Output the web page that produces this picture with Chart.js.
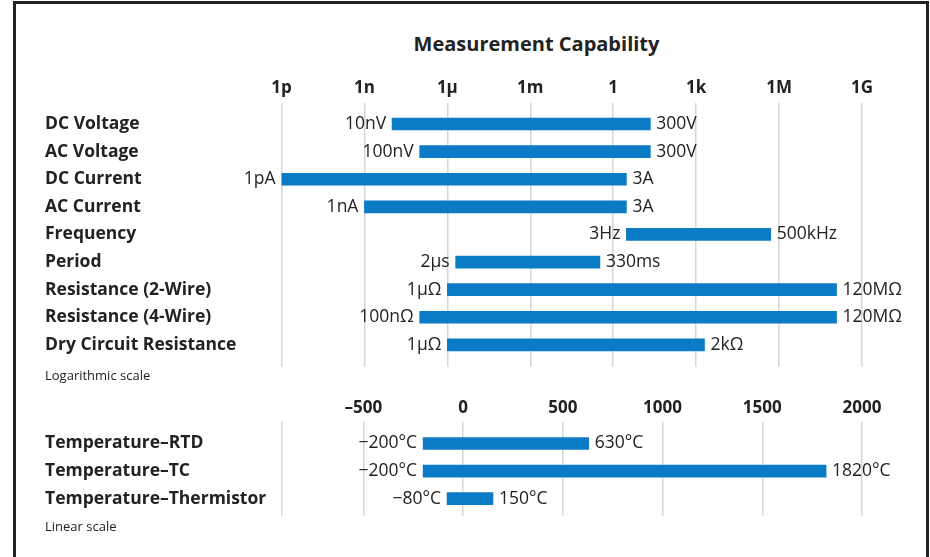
<!DOCTYPE html>
<html>
<head>
<meta charset="utf-8">
<script src="https://cdn.jsdelivr.net/npm/chart.js@4/dist/chart.umd.min.js"></script>
<style>
  body { margin: 0; width: 930px; height: 557px; overflow: hidden; background: #fff; position: relative; font-family: 'Open Sans', sans-serif; color: #222; }
  .frame { position: absolute; left: 13px; top: 1px; width: 916px; height: 600px; box-sizing: border-box; border: 3px solid #222; border-bottom: none; }
  .title { position: absolute; left: 0; width: 1073px; top: 32px; line-height: 24px; font-size: 20px; font-weight: 700; text-align: center; }
  .note { position: absolute; left: 45px; font-size: 13px; line-height: 16px; }
  canvas { position: absolute; left: 0; }
</style>
</head>
<body>
<div class="frame"></div>
<div class="title">Measurement Capability</div>
<canvas id="log-chart" width="930" height="380" style="top:0"></canvas>
<div class="note" style="top:367px">Logarithmic scale</div>
<canvas id="lin-chart" width="930" height="177" style="top:380px"></canvas>
<div class="note" style="top:518px">Linear scale</div>
<script>
const categories = ['DC Voltage', 'AC Voltage', 'DC Current', 'AC Current', 'Frequency', 'Period',
  'Resistance (2-Wire)', 'Resistance (4-Wire)', 'Dry Circuit Resistance'];
const rangeLow = [1e-8, 1e-7, 1e-12, 1e-9, 3, 2e-6, 1e-6, 1e-7, 1e-6];
const rangeHigh = [22, 22, 3, 3, 5e5, 0.33, 1.2e8, 1.2e8, 2e3];
const lowLabels = ['10nV', '100nV', '1pA', '1nA', '3Hz', '2µs', '1µΩ', '100nΩ', '1µΩ'];
const highLabels = ['300V', '300V', '3A', '3A', '500kHz', '330ms', '120MΩ', '120MΩ', '2kΩ'];
const logTicks = [1e-12, 1e-9, 1e-6, 1e-3, 1, 1e3, 1e6, 1e9];
const logTickLabels = ['1p', '1n', '1µ', '1m', '1', '1k', '1M', '1G'];

const tempCategories = ['Temperature–RTD', 'Temperature–TC', 'Temperature–Thermistor'];
const tempLow = [-200, -200, -80];
const tempHigh = [630, 1820, 150];
const tempLowLabels = ['−200°C', '−200°C', '−80°C'];
const tempHighLabels = ['630°C', '1820°C', '150°C'];
const linMin = -910;
const linTicks = [linMin, -500, 0, 500, 1000, 1500, 2000];
const linTickLabels = ['', '–500', '0', '500', '1000', '1500', '2000'];

Chart.defaults.font.family = "'Open Sans', sans-serif";
Chart.defaults.color = '#222';

const barBlue = '#0a7bc4';
const gridGrey = '#d6d6d6';

// writes the end values beside each bar
const endLabels = {
  id: 'endLabels',
  afterDatasetsDraw(chart, args, opts) {
    const ctx = chart.ctx;
    ctx.save();
    ctx.font = '17.5px "Open Sans", sans-serif';
    ctx.fillStyle = '#222';
    ctx.textBaseline = 'middle';
    chart.getDatasetMeta(0).data.forEach((bar, i) => {
      const left = Math.min(bar.x, bar.base);
      const right = Math.max(bar.x, bar.base);
      ctx.textAlign = 'right';
      ctx.fillText(opts.low[i], left - 6, bar.y);
      ctx.textAlign = 'left';
      ctx.fillText(opts.high[i], right + 6, bar.y);
    });
    ctx.restore();
  }
};

const makeChart = (canvas, cats, low, high, xScale, yMin, yMax, pad, axisHeight, lowText, highText) => {
  return new Chart(canvas, {
    type: 'bar',
    data: {
      datasets: [{
        data: cats.map((c, i) => ({ y: i, x: [low[i], high[i]] })),
        backgroundColor: barBlue,
        borderWidth: 0,
        barThickness: 12
      }]
    },
    options: {
      indexAxis: 'y',
      responsive: false,
      animation: false,
      layout: { padding: pad },
      plugins: {
        legend: { display: false },
        tooltip: { enabled: false },
        endLabels: { low: lowText, high: highText }
      },
      scales: {
        x: Object.assign({
          position: 'top',
          border: { display: false },
          grid: { color: gridGrey, lineWidth: 1.5, drawTicks: false },
          afterFit: (s) => { s.height = axisHeight; }
        }, xScale),
        y: {
          type: 'linear',
          reverse: true,
          offset: false,
          min: yMin,
          max: yMax,
          border: { display: false },
          grid: { display: false },
          afterBuildTicks: (s) => { s.ticks = cats.map((c, i) => ({ value: i })); },
          afterFit: (s) => { s.width = 236.5; },
          ticks: {
            crossAlign: 'far',
            padding: 0,
            font: { size: 17.5, weight: 'bold' },
            callback: (v) => cats[v]
          }
        }
      }
    },
    plugins: [endLabels]
  });
};

makeChart(document.getElementById('log-chart'), categories, rangeLow, rangeHigh, {
  type: 'logarithmic',
  min: 1e-12,
  max: 1e9,
  afterBuildTicks: (s) => { s.ticks = logTicks.map(v => ({ value: v })); },
  ticks: {
    padding: 5,
    autoSkip: false,
    maxRotation: 0,
    font: { size: 17, weight: 'bold' },
    callback: (v, i) => logTickLabels[i]
  }
}, -0.76, 8.79, { left: 45, right: 68, top: 70, bottom: 13.3 }, 33, lowLabels, highLabels);

makeChart(document.getElementById('lin-chart'), tempCategories, tempLow, tempHigh, {
  type: 'linear',
  min: linMin,
  max: 2000,
  afterBuildTicks: (s) => { s.ticks = linTicks.map(v => ({ value: v })); },
  ticks: {
    padding: 4.4,
    autoSkip: false,
    maxRotation: 0,
    font: { size: 17, weight: 'bold' },
    callback: (v, i) => linTickLabels[i]
  }
}, -0.77, 2.62, { left: 45, right: 68, top: 15, bottom: 41.3 }, 27.3, tempLowLabels, tempHighLabels);
</script>
</body>
</html>
